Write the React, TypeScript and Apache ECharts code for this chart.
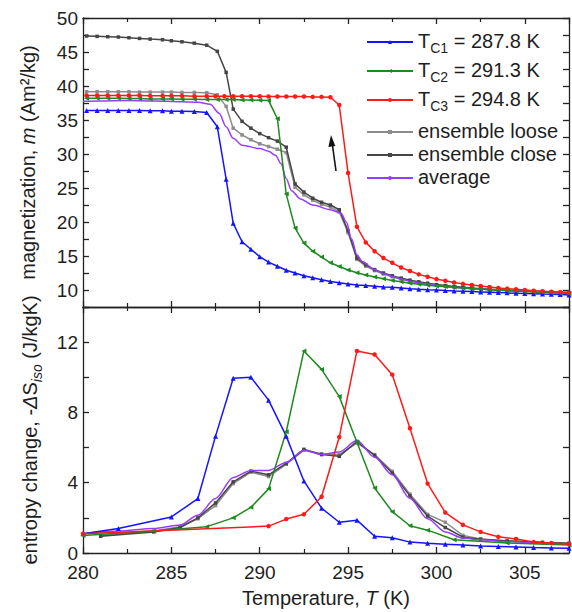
import React, { useEffect, useRef } from 'react';
import * as echarts from 'echarts';

const FONT = '"Liberation Sans", Arial, Helvetica, sans-serif';
const TEXT = '#1e1e1e';

// ---- Top panel: magnetization m (Am²/kg) vs T (K) ----
const magTc1: [number, number][] = [
  [280.2, 36.4], [280.8, 36.4], [281.4, 36.4], [282.0, 36.4], [282.6, 36.4], [283.2, 36.4], [283.8, 36.35], [284.5, 36.35],
  [285.0, 36.3], [285.6, 36.3], [286.3, 36.25], [287.0, 36.1], [287.6, 34.0], [288.1, 26.3], [288.5, 19.8], [289.0, 17.1],
  [289.5, 16.0], [290.0, 14.9], [290.5, 14.1], [291.0, 13.5], [291.5, 12.9], [292.0, 12.5], [292.5, 12.1], [293.0, 11.8],
  [293.5, 11.5], [294.0, 11.25], [294.5, 11.05], [295.0, 10.9], [295.5, 10.75], [296.0, 10.65], [296.5, 10.55], [297.0, 10.45],
  [297.5, 10.4], [298.0, 10.3], [298.5, 10.2], [299.0, 10.12], [299.5, 10.05], [300.0, 10.0], [300.5, 9.93], [301.0, 9.87],
  [301.5, 9.82], [302.0, 9.77], [302.5, 9.72], [303.0, 9.67], [303.5, 9.62], [304.0, 9.58], [304.5, 9.54], [305.0, 9.5],
  [305.5, 9.45], [306.0, 9.4], [306.5, 9.36], [307.0, 9.32], [307.5, 9.28],
];
const magTc2: [number, number][] = [
  [280.2, 38.2], [280.8, 38.2], [281.4, 38.2], [282.0, 38.2], [282.6, 38.15], [283.2, 38.15], [283.8, 38.1], [284.5, 38.1],
  [285.0, 38.1], [285.6, 38.05], [286.3, 38.05], [287.0, 38.0], [287.6, 38.0], [288.1, 38.0], [288.5, 38.0], [289.0, 37.95],
  [289.5, 37.95], [290.0, 37.9], [290.5, 37.85], [291.0, 35.2], [291.5, 24.1], [292.0, 19.1], [292.5, 16.9], [293.0, 15.7],
  [293.5, 14.85], [294.0, 14.0], [294.5, 13.45], [295.0, 12.95], [295.5, 12.55], [296.0, 12.2], [296.5, 11.9], [297.0, 11.65],
  [297.5, 11.4], [298.0, 11.2], [298.5, 11.0], [299.0, 10.85], [299.5, 10.7], [300.0, 10.6], [300.5, 10.5], [301.0, 10.4],
  [301.5, 10.3], [302.0, 10.2], [302.5, 10.15], [303.0, 10.05], [303.5, 9.98], [304.0, 9.9], [304.5, 9.85], [305.0, 9.78],
  [305.5, 9.72], [306.0, 9.67], [306.5, 9.6], [307.0, 9.55], [307.5, 9.5],
];
const magTc3: [number, number][] = [
  [280.2, 38.6], [280.8, 38.6], [281.4, 38.6], [282.0, 38.6], [282.6, 38.6], [283.2, 38.6], [283.8, 38.55], [284.5, 38.55],
  [285.0, 38.55], [285.6, 38.55], [286.3, 38.5], [287.0, 38.5], [287.5, 38.5], [288.0, 38.5], [288.5, 38.5], [289.0, 38.5],
  [289.5, 38.5], [290.0, 38.5], [290.5, 38.45], [291.0, 38.45], [291.5, 38.45], [292.0, 38.45], [292.5, 38.45], [293.0, 38.4],
  [293.5, 38.4], [294.0, 38.35], [294.5, 37.2], [295.0, 27.2], [295.5, 19.3], [296.0, 17.0], [296.5, 15.7], [297.0, 14.7],
  [297.5, 14.0], [298.0, 13.3], [298.5, 12.8], [299.0, 12.3], [299.5, 11.95], [300.0, 11.6], [300.5, 11.35], [301.0, 11.1],
  [301.5, 10.9], [302.0, 10.75], [302.5, 10.6], [303.0, 10.45], [303.5, 10.3], [304.0, 10.2], [304.5, 10.1], [305.0, 10.0],
  [305.5, 9.9], [306.0, 9.82], [306.5, 9.75], [307.0, 9.68], [307.5, 9.62],
];
const magLoose: [number, number][] = [
  [280.2, 39.15], [280.8, 39.15], [281.4, 39.15], [282.0, 39.15], [282.6, 39.15], [283.2, 39.1], [283.8, 39.1], [284.5, 39.1],
  [285.0, 39.1], [285.6, 39.05], [286.3, 39.05], [287.0, 39.0], [287.6, 38.7], [288.1, 37.0], [288.5, 33.8], [289.0, 32.8],
  [289.5, 32.1], [290.0, 31.5], [290.5, 31.1], [291.0, 30.7], [291.5, 30.2], [292.0, 25.1], [292.5, 24.0], [293.0, 23.2],
  [293.5, 22.6], [294.0, 22.2], [294.5, 21.5], [295.0, 18.4], [295.5, 14.5], [296.0, 13.5], [296.5, 12.85], [297.0, 12.35],
  [297.5, 11.95], [298.0, 11.6], [298.5, 11.3], [299.0, 11.05], [299.5, 10.85], [300.0, 10.7], [300.5, 10.55], [301.0, 10.42],
  [301.5, 10.32], [302.0, 10.22], [302.5, 10.14], [303.0, 10.06], [303.5, 10.0], [304.0, 9.94], [304.5, 9.88], [305.0, 9.83],
  [305.5, 9.78], [306.0, 9.73], [306.5, 9.68], [307.0, 9.63], [307.5, 9.58],
];
const magClose: [number, number][] = [
  [280.2, 47.35], [280.8, 47.3], [281.4, 47.25], [282.0, 47.2], [282.6, 47.1], [283.2, 47.0], [283.8, 46.9], [284.5, 46.8],
  [285.0, 46.65], [285.6, 46.5], [286.3, 46.3], [287.0, 46.0], [287.6, 45.1], [288.1, 42.0], [288.5, 36.6], [289.0, 34.8],
  [289.5, 33.8], [290.0, 33.0], [290.5, 32.4], [291.0, 31.9], [291.5, 31.0], [292.0, 25.6], [292.5, 24.4], [293.0, 23.5],
  [293.5, 22.9], [294.0, 22.5], [294.5, 21.8], [295.0, 18.7], [295.5, 14.7], [296.0, 13.7], [296.5, 13.0], [297.0, 12.5],
  [297.5, 12.1], [298.0, 11.75], [298.5, 11.45], [299.0, 11.2], [299.5, 11.0], [300.0, 10.8], [300.5, 10.65], [301.0, 10.5],
  [301.5, 10.4], [302.0, 10.3], [302.5, 10.2], [303.0, 10.1], [303.5, 10.03], [304.0, 9.97], [304.5, 9.9], [305.0, 9.85],
  [305.5, 9.8], [306.0, 9.75], [306.5, 9.7], [307.0, 9.65], [307.5, 9.6],
];
const magAverage: [number, number][] = [
  [280.0, 37.75], [281.0, 37.8], [282.5, 37.85], [284.0, 37.8], [285.5, 37.7], [286.5, 37.6], [287.2, 37.3], [287.7, 36.0],
  [288.1, 34.0], [288.5, 32.3], [289.0, 31.3], [290.0, 30.8], [290.5, 30.4], [290.9, 29.8], [291.2, 28.6], [291.5, 26.4],
  [291.8, 24.6], [292.3, 23.4], [293.0, 22.5], [294.0, 21.8], [294.6, 21.3], [294.9, 20.0], [295.2, 17.5], [295.5, 15.2],
  [295.8, 14.2], [296.5, 13.0], [297.0, 12.4], [297.5, 12.0], [298.0, 11.6], [298.5, 11.3], [299.0, 11.05], [299.5, 10.85],
  [300.0, 10.68], [301.0, 10.42], [302.0, 10.22], [303.0, 10.06], [304.0, 9.95], [305.0, 9.85], [306.0, 9.75], [307.5, 9.62],
];

// ---- Bottom panel: entropy change -ΔS_iso (J/kgK) vs T (K) ----
const dsTc1: [number, number][] = [
  [280, 1.1], [282, 1.4], [285, 2.05], [286.5, 3.1], [287.5, 6.65], [288.5, 9.94], [289.5, 10.0], [290.5, 8.7],
  [291.5, 6.65], [292.5, 4.1], [293.5, 2.55], [294.5, 1.75], [295.5, 1.87], [296.5, 0.95], [297.5, 0.87], [298.5, 0.62],
  [299.5, 0.55], [300.5, 0.5], [301.5, 0.45], [302.5, 0.4], [303.5, 0.37], [304.5, 0.34], [305.5, 0.31], [306.5, 0.29], [307.5, 0.27],
];
const dsTc2: [number, number][] = [
  [280, 1.0], [284, 1.25], [287, 1.5], [288.5, 2.0], [289.5, 2.6], [290.5, 3.65], [291.5, 6.9], [292.5, 11.5],
  [293.5, 10.45], [294.5, 8.9], [295.5, 6.3], [296.5, 3.7], [297.5, 2.35], [298.5, 1.55], [299.5, 1.3], [301, 0.75],
  [304, 0.57], [307.5, 0.45],
];
const dsTc3: [number, number][] = [
  [280, 1.1], [290.5, 1.53], [291.5, 1.93], [292.5, 2.2], [293.5, 3.2], [294.5, 6.6], [295.5, 11.5], [296.5, 11.3],
  [297.5, 10.15], [298.5, 7.1], [299.5, 3.95], [300.5, 2.3], [301.5, 1.6], [302.5, 1.2], [303.5, 0.92], [304.5, 0.8],
  [305.5, 0.62], [306.5, 0.57], [307.5, 0.5],
];
const dsLoose: [number, number][] = [
  [281, 1.0], [284, 1.25], [285.5, 1.5], [286.5, 1.95], [287.5, 2.7], [288.5, 3.95], [289.5, 4.6], [290.5, 4.35],
  [291.5, 5.05], [292.5, 5.85], [293.5, 5.65], [294.5, 5.6], [295.5, 6.25], [296.5, 5.6], [297.5, 4.65], [298.5, 3.35],
  [299.5, 2.2], [300.5, 1.75], [301.5, 1.0], [302.5, 0.8], [304, 0.7], [306, 0.6], [307.5, 0.55],
];
const dsClose: [number, number][] = [
  [281, 0.95], [284, 1.2], [285.5, 1.45], [286.5, 2.0], [287.5, 2.85], [288.5, 4.05], [289.5, 4.66], [290.5, 4.45],
  [291.5, 5.1], [292.5, 5.9], [293.5, 5.6], [294.5, 5.5], [295.5, 6.35], [296.5, 5.55], [297.5, 4.55], [298.5, 3.25],
  [299.5, 2.1], [300.5, 1.45], [301.5, 0.9], [302.5, 0.78], [304, 0.68], [306, 0.6], [307.5, 0.55],
];
const dsAverage: [number, number][] = [
  [280, 1.1], [282, 1.25], [284, 1.4], [285.5, 1.6], [286.5, 2.15], [287.5, 3.1], [288.5, 4.3], [289.5, 4.7],
  [290.5, 4.7], [291.5, 5.15], [292.5, 5.85], [293.5, 5.6], [294.5, 5.75], [295.5, 6.4], [296.5, 5.45], [297.5, 4.45],
  [298.5, 3.1], [299.5, 1.95], [300.5, 1.2], [301.5, 0.85], [302.5, 0.75], [304, 0.65], [306, 0.55], [307.5, 0.5],
];

const legendLabels: Record<string, string> = {
  Tc1: '{a|T}{s|C1}{a| = 287.8 K}',
  Tc2: '{a|T}{s|C2}{a| = 291.3 K}',
  Tc3: '{a|T}{s|C3}{a| = 294.8 K}',
  'ensemble loose': '{a|ensemble loose}',
  'ensemble close': '{a|ensemble close}',
  average: '{a|average}',
};

const C_BLUE = '#1414ff';
const C_GREEN = '#1f8a1f';
const C_RED = '#ff1a1a';
const C_LOOSE = '#8c8c8c';
const C_CLOSE = '#454545';
const C_AVG = '#9a3cff';

function mk(name: string, data: [number, number][], color: string, symbol: string, size: number, rotate: number, panel: number, smooth = false, z = 2) {
  const ax = panel === 0 ? 0 : 2;
  return {
    type: 'line',
    name,
    data,
    xAxisIndex: ax,
    yAxisIndex: ax,
    symbol,
    symbolSize: size,
    symbolRotate: rotate,
    showSymbol: symbol !== 'none',
    smooth: smooth ? 0.3 : false,
    smoothMonotone: smooth ? 'x' : undefined,
    lineStyle: { color, width: 1.5 },
    itemStyle: { color },
    z,
    emphasis: { disabled: true },
  };
}

const lineCol = '#222';
const axisCommon = {
  type: 'value',
  axisLine: { show: true, onZero: false, lineStyle: { color: lineCol, width: 1.3 } },
  axisTick: { show: true, inside: true, length: 6, lineStyle: { color: lineCol, width: 1.3 } },
  splitLine: { show: false },
};
const tickLabel = { color: TEXT, fontSize: 19, fontFamily: FONT };
const xBase = {
  ...axisCommon,
  min: 280,
  max: 307.5,
  interval: 5,
  minorTick: { show: true, splitNumber: 2, length: 4, lineStyle: { color: lineCol, width: 1.2 } },
  minorSplitLine: { show: false },
};
const yTop = { ...axisCommon, min: 7.5, max: 50, interval: 2.5 };
const yBot = { ...axisCommon, min: 0, max: 14, interval: 2 };
const nameRich = {
  n: { fontSize: 20, fontFamily: FONT, color: TEXT, lineHeight: 22, verticalAlign: 'top' },
  i: { fontSize: 20, fontFamily: FONT, color: TEXT, fontStyle: 'italic', lineHeight: 22, verticalAlign: 'top' },
  s: { fontSize: 14, fontFamily: FONT, color: TEXT, fontStyle: 'italic', lineHeight: 14, padding: [10, 0, 0, 0], verticalAlign: 'top' },
};
const legendRich = {
  a: { fontSize: 20, fontFamily: FONT, color: TEXT, lineHeight: 22, verticalAlign: 'top' },
  s: { fontSize: 14, fontFamily: FONT, color: TEXT, lineHeight: 14, padding: [10, 0, 0, 0], verticalAlign: 'top' },
};

export default function App() {
  const ref = useRef<HTMLDivElement>(null);
  useEffect(() => {
    const chart = echarts.init(ref.current!, null, { renderer: 'svg' });
    const option: any = {
      animation: false,
      backgroundColor: '#ffffff',
      grid: [
        { left: 83, top: 18, width: 486, height: 289 },
        { left: 83, top: 307, width: 486, height: 246 },
      ],
      xAxis: [
        { ...xBase, gridIndex: 0, position: 'bottom', axisLabel: { show: false } },
        { ...xBase, gridIndex: 0, position: 'top', axisLabel: { show: false } },
        {
          ...xBase, gridIndex: 1, position: 'bottom',
          axisLabel: { ...tickLabel, margin: 11, lineHeight: 16, formatter: (v: number) => (v % 5 === 0 ? String(v) : '') },
          name: '{n|Temperature, }{i|T}{n| (K)}',
          nameLocation: 'middle',
          nameGap: 35,
          nameTextStyle: { rich: nameRich },
        },
        { ...xBase, gridIndex: 1, position: 'top', axisLabel: { show: false } },
      ],
      yAxis: [
        {
          ...yTop, gridIndex: 0, position: 'left',
          axisLabel: { ...tickLabel, margin: 5, lineHeight: 14, formatter: (v: number) => (v % 5 === 0 ? String(v) : '') },
          name: '{n|magnetization, }{i|m}{n| (Am²/kg)}',
          nameLocation: 'middle',
          nameGap: 43,
          nameTextStyle: { rich: nameRich },
        },
        { ...yTop, gridIndex: 0, position: 'right', axisLabel: { show: false } },
        {
          ...yBot, gridIndex: 1, position: 'left',
          axisLabel: { ...tickLabel, margin: 5, lineHeight: 14, formatter: (v: number) => (v % 4 === 0 ? String(v) : '') },
          name: '{n|entropy change, -}{i|Δ}{n|S}{s|iso}{n| (J/kgK)}',
          nameLocation: 'middle',
          nameGap: 41,
          nameTextStyle: { rich: nameRich },
        },
        { ...yBot, gridIndex: 1, position: 'right', axisLabel: { show: false } },
      ],
      legend: [
        {
          data: ['Tc1', 'Tc2', 'Tc3'],
          orient: 'vertical', left: 366, top: 31, padding: 0,
          itemWidth: 46, itemHeight: 5, itemGap: 5,
          formatter: (n: string) => legendLabels[n],
          textStyle: { rich: legendRich },
          selectedMode: false,
        },
        {
          data: ['ensemble loose', 'ensemble close', 'average'],
          orient: 'vertical', left: 366, top: 121, padding: 0,
          itemWidth: 46, itemHeight: 5, itemGap: 3,
          formatter: (n: string) => legendLabels[n],
          textStyle: { rich: legendRich },
          selectedMode: false,
        },
      ],
      graphic: [
        { type: 'line', shape: { x1: 336, y1: 171, x2: 332.3, y2: 144 }, style: { stroke: '#111', lineWidth: 1.6 } },
        { type: 'polygon', shape: { points: [[331, 135], [335.3, 146], [328.4, 147]] }, style: { fill: '#111' } },
      ],
      series: [
        mk('ensemble loose', magLoose, C_LOOSE, 'rect', 3.5, 0, 0, false, 2),
        mk('ensemble close', magClose, C_CLOSE, 'rect', 3.5, 0, 0, false, 3),
        mk('average', magAverage, C_AVG, 'none', 0, 0, 0, true, 4),
        mk('Tc1', magTc1, C_BLUE, 'triangle', 5, 0, 0, false, 5),
        mk('Tc2', magTc2, C_GREEN, 'triangle', 5, 90, 0, false, 5),
        mk('Tc3', magTc3, C_RED, 'circle', 4.5, 0, 0, false, 5),
        mk('ensemble loose', dsLoose, C_LOOSE, 'rect', 3.5, 0, 1, false, 2),
        mk('ensemble close', dsClose, C_CLOSE, 'rect', 3.5, 0, 1, false, 3),
        mk('average', dsAverage, C_AVG, 'none', 0, 0, 1, true, 4),
        mk('Tc1', dsTc1, C_BLUE, 'triangle', 5, 0, 1, false, 5),
        mk('Tc2', dsTc2, C_GREEN, 'triangle', 5, 90, 1, false, 5),
        mk('Tc3', dsTc3, C_RED, 'circle', 4.5, 0, 1, false, 5),
      ],
    };
    chart.setOption(option);
    return () => chart.dispose();
  }, []);
  return (
    <div
      ref={ref}
      style={{ position: 'absolute', left: 0, top: 0, width: 572, height: 612, background: '#fff' }}
    />
  );
}
